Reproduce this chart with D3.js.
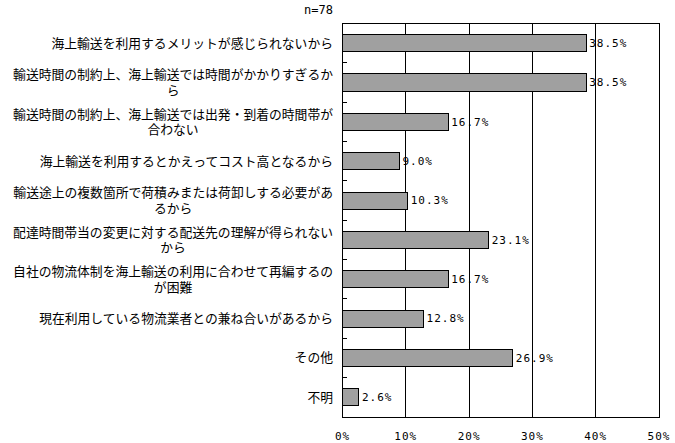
<!DOCTYPE html>
<html>
<head>
<meta charset="utf-8">
<script src="https://cdn.jsdelivr.net/npm/d3@7"></script>
<style>
  body { margin: 0; background: #fff; }
  text { font-family: "Noto Sans CJK JP", sans-serif; fill: #000; }
  .num { font-family: "DejaVu Sans Mono", monospace; font-size: 11px; letter-spacing: 1px; }
</style>
</head>
<body>
<svg width="675" height="443"></svg>
<script>
// categories (line breaks as in the original)
var categories = [
  ['海上輸送を利用するメリットが感じられないから'],
  ['輸送時間の制約上、海上輸送では時間がかかりすぎるか', 'ら'],
  ['輸送時間の制約上、海上輸送では出発・到着の時間帯が', '合わない'],
  ['海上輸送を利用するとかえってコスト高となるから'],
  ['輸送途上の複数箇所で荷積みまたは荷卸しする必要があ', 'るから'],
  ['配達時間帯当の変更に対する配送先の理解が得られない', 'から'],
  ['自社の物流体制を海上輸送の利用に合わせて再編するの', 'が困難'],
  ['現在利用している物流業者との兼ね合いがあるから'],
  ['その他'],
  ['不明']
];
var values = [38.5, 38.5, 16.7, 9.0, 10.3, 23.1, 16.7, 12.8, 26.9, 2.6];
var xTicks = [0, 10, 20, 30, 40, 50];
var sampleNote = 'n=78';

var svg = d3.select('svg');
var plotL = 342.5, plotR = 659, plotT = 23.5, plotB = 417;

var x = d3.scaleLinear().domain([0, 50]).range([plotL, plotR]);
var y = d3.scaleBand().domain(d3.range(categories.length)).range([plotT, plotB]).paddingInner(0.565).paddingOuter(0.2825);
var band = (plotB - plotT) / categories.length;

// grid lines
svg.append('g').selectAll('line').data(xTicks.slice(1, -1)).enter().append('line')
  .attr('x1', function(d) { return x(d); }).attr('x2', function(d) { return x(d); })
  .attr('y1', plotT).attr('y2', plotB)
  .attr('stroke', '#000').attr('stroke-width', 1).attr('shape-rendering', 'crispEdges');

// bars
svg.append('g').selectAll('rect').data(values).enter().append('rect')
  .attr('x', x(0))
  .attr('y', function(d, i) { return y(i); })
  .attr('width', function(d) { return x(d) - x(0); })
  .attr('height', y.bandwidth())
  .attr('fill', '#a0a0a0').attr('stroke', '#000').attr('stroke-width', 1)
  .attr('shape-rendering', 'crispEdges');

// frame
svg.append('rect').attr('x', plotL).attr('y', plotT).attr('width', plotR - plotL).attr('height', plotB - plotT)
  .attr('fill', 'none').attr('stroke', '#000').attr('stroke-width', 1).attr('shape-rendering', 'crispEdges');

// category ticks
svg.append('g').selectAll('line').data(d3.range(categories.length + 1)).enter().append('line')
  .attr('x1', plotL).attr('x2', plotL + 4)
  .attr('y1', function(d) { return plotT + d * band; }).attr('y2', function(d) { return plotT + d * band; })
  .attr('stroke', '#000').attr('shape-rendering', 'crispEdges');

// value labels
svg.append('g').selectAll('text').data(values).enter().append('text')
  .attr('class', 'num')
  .attr('x', function(d) { return x(d) + 3; })
  .attr('y', function(d, i) { return y(i) + y.bandwidth() / 2; })
  .attr('dy', '0.35em')
  .text(function(d) { return d.toFixed(1) + '%'; });

// category labels
var labelRight = 333;
categories.forEach(function(lines, i) {
  var cy = y(i) + y.bandwidth() / 2;
  var g = svg.append('text').style('font-size', '12.8px');
  var t = g.selectAll('tspan').data(lines).enter().append('tspan')
    .attr('y', function(d, j) { return cy + (j - (lines.length - 1) / 2) * 15.5; })
    .attr('dy', '0.35em')
    .text(function(d) { return d; });
  var w = 0;
  t.each(function() { w = Math.max(w, this.getComputedTextLength()); });
  t.attr('x', labelRight - w / 2).attr('text-anchor', 'middle');
});

// x axis labels
svg.append('g').selectAll('text').data(xTicks).enter().append('text')
  .attr('class', 'num')
  .attr('x', function(d) { return x(d); })
  .attr('y', 436)
  .attr('dy', '0.35em')
  .attr('text-anchor', 'middle')
  .text(function(d) { return d + '%'; });

svg.append('text').attr('class', 'num').attr('x', 333).attr('y', 10).attr('dy', '0.35em')
  .attr('text-anchor', 'end').style('font-size', '12px').style('letter-spacing', '0px').text(sampleNote);
</script>
</body>
</html>
